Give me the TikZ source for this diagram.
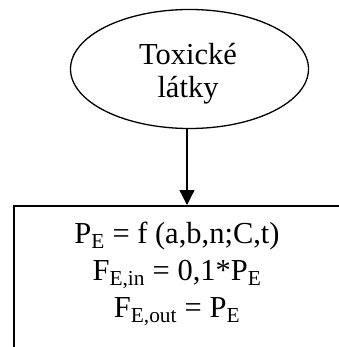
\documentclass[tikz,border=0pt]{standalone}
\usepackage{fontspec}
\setmainfont{Liberation Serif}
\usetikzlibrary{shapes.geometric,arrows.meta}
\tikzset{
  ellnode/.style={draw, line width=1.3pt, ellipse, minimum width=238pt, minimum height=119pt, inner sep=0pt},
  ltext/.style={align=center, inner sep=0pt, font=\fontsize{30.5}{33}\selectfont},
  boxnode/.style={draw, line width=1.7pt, rectangle, anchor=north west, minimum width=328pt, minimum height=200pt, inner sep=0pt},
  formula/.style={align=center, inner sep=0pt, font=\fontsize{30.5}{37}\selectfont},
  flow/.style={line width=1.3pt, -{Triangle[width=15pt,length=15pt]}}
}
\begin{document}
\begin{tikzpicture}[x=1pt,y=-1pt]
\useasboundingbox (0,0) rectangle (338,347);
\node[ellnode] (ell) at (189.5,69) {};
\node[ltext] (tox) at (188,74) {Toxické\\látky};
\node[boxnode] (box) at (13,205) {};
\node[formula] (eq) at (177,274) {P\textsubscript{E} = f (a,b,n;C,t)\\F\textsubscript{E,in} = 0,1*P\textsubscript{E}\\F\textsubscript{E,out} = P\textsubscript{E}};
\coordinate (arrtop) at (187,0);
\draw[flow] (ell.south -| arrtop) -- (arrtop |- box.north);
\end{tikzpicture}
\end{document}
